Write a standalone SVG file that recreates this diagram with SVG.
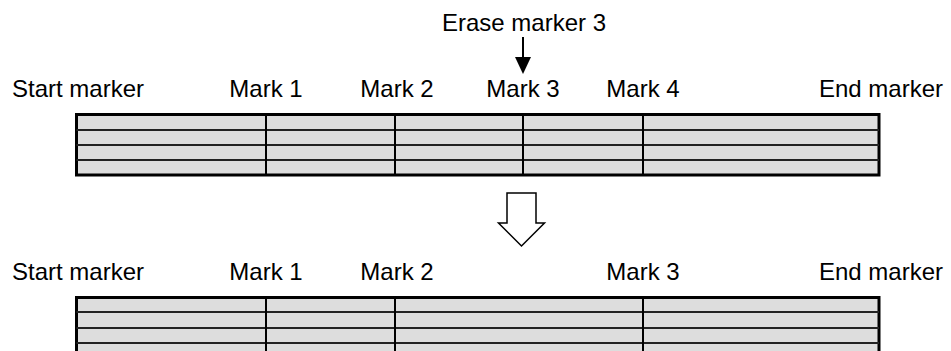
<svg xmlns="http://www.w3.org/2000/svg" width="951" height="351" viewBox="0 0 951 351">
<style>
text{font-family:"Liberation Sans",Arial,sans-serif;font-size:24px;fill:#000;text-anchor:middle}
.tbl{fill:#dddddd;stroke:#000;stroke-width:3}
.row{stroke:#222;stroke-width:2}
.col{stroke:#000;stroke-width:2}
</style>
<rect width="951" height="351" fill="#fff"/>
<g id="erase-label">
<text x="524" y="31">Erase marker 3</text>
</g>
<g id="before">
<text x="78" y="97">Start marker</text>
<text x="266" y="97">Mark 1</text>
<text x="397" y="97">Mark 2</text>
<text x="523" y="97">Mark 3</text>
<text x="643" y="97">Mark 4</text>
<text x="881" y="97">End marker</text>
<rect class="tbl" x="76.5" y="114.5" width="802.5" height="60.5"/>
<line class="row" x1="76.5" y1="130" x2="879" y2="130"/>
<line class="row" x1="76.5" y1="145" x2="879" y2="145"/>
<line class="row" x1="76.5" y1="160" x2="879" y2="160"/>
<line class="col" x1="266" y1="114" x2="266" y2="175"/>
<line class="col" x1="395" y1="114" x2="395" y2="175"/>
<line class="col" x1="523" y1="114" x2="523" y2="175"/>
<line class="col" x1="643" y1="114" x2="643" y2="175"/>
</g>
<g id="after">
<text x="78" y="280">Start marker</text>
<text x="266" y="280">Mark 1</text>
<text x="397" y="280">Mark 2</text>
<text x="643" y="280">Mark 3</text>
<text x="881" y="280">End marker</text>
<rect class="tbl" x="76.5" y="297.5" width="802.5" height="60.5"/>
<line class="row" x1="76.5" y1="312" x2="879" y2="312"/>
<line class="row" x1="76.5" y1="328" x2="879" y2="328"/>
<line class="row" x1="76.5" y1="343" x2="879" y2="343"/>
<line class="col" x1="266" y1="297" x2="266" y2="358"/>
<line class="col" x1="395" y1="297" x2="395" y2="358"/>
<line class="col" x1="643" y1="297" x2="643" y2="358"/>
</g>
<g id="connectors">
<line x1="523" y1="37" x2="523" y2="60" stroke="#000" stroke-width="2"/>
<polygon points="515,57 531,57 523,74" fill="#000"/>
<polygon points="507,193 536,193 536,223 544.5,223 521.5,246 498.5,223 507,223" fill="#fff" stroke="#000" stroke-width="1.5" stroke-linejoin="miter"/>
</g>
</svg>
